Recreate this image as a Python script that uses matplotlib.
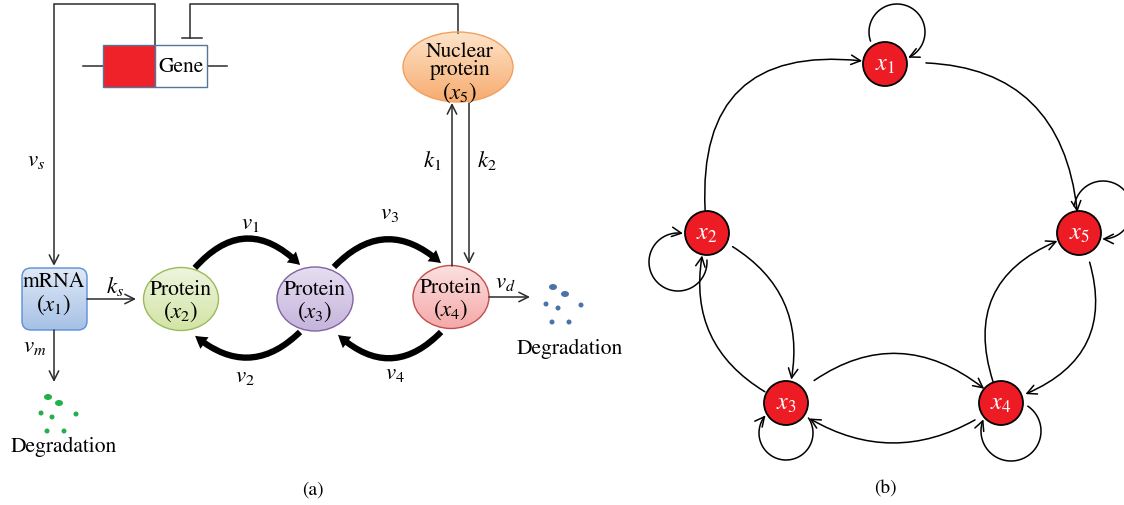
import numpy as np
import matplotlib
matplotlib.use("Agg")
import matplotlib.pyplot as plt
from matplotlib.patches import Ellipse, FancyBboxPatch, Rectangle, Circle, FancyArrowPatch
from matplotlib.path import Path
from matplotlib.colors import to_rgb

plt.rcParams['font.family'] = 'STIXGeneral'
plt.rcParams['mathtext.fontset'] = 'stix'

W, H = 1124, 505
PX2PT = 0.72  # one pixel in points at dpi 100
LINE = '#2b2b2b'
FS = 15.5

# ---- panel (a): reaction scheme ----
# protein species drawn as shaded ellipses
prot_labels = [r'$(x_2)$', r'$(x_3)$', r'$(x_4)$']
prot_cx = [181, 315, 451]
prot_cy = [299, 299, 297]
prot_w = [75, 76, 76]
prot_h = [63, 64, 63]
prot_top = ['#eef5de', '#e6def1', '#fce0e0']
prot_bot = ['#d3e4a6', '#c5b4dc', '#f5a9a9']
prot_edge = ['#9bbb59', '#8064a2', '#c0504d']

# conversion arrows between proteins: (start, end, rad, label, label pos)
conv_start = [(193, 270), (302, 330), (332, 269), (443, 330)]
conv_end = [(302, 267), (193, 334), (443, 265), (336, 333)]
conv_rad = [-0.55, -0.47, -0.5, -0.5]
conv_labels = [r'$v_1$', r'$v_2$', r'$v_3$', r'$v_4$']
conv_lab_pos = [(250, 223), (245, 376), (390, 213), (395, 373)]

# degradation products
green_x = [48, 59, 41, 52, 76, 47, 64]
green_y = [397, 403, 413, 417, 414, 431, 431]
blue_x = [553, 565, 546, 558, 581, 552, 569]
blue_y = [287, 294, 304, 308, 305, 322, 322]

# ---- panel (b): interaction graph ----
node_labels = [r'$x_1$', r'$x_2$', r'$x_3$', r'$x_4$', r'$x_5$']
node_x = [885, 707, 786, 1001, 1079]
node_y = [64, 233, 403, 403, 233]
node_r = 22

# directed edges: source, target, curvature, gap at start / end (px)
edge_src = [2, 1, 5, 4, 4, 3, 3, 2]
edge_dst = [1, 5, 4, 5, 3, 4, 2, 3]
edge_rad = [-0.66, -0.52, -0.56, -0.55, -0.37, -0.46, -0.42, -0.43]
edge_gap_a = [23, 41, 31, 23, 31, 36, 24, 29]
edge_gap_b = [23, 21, 26, 23, 28, 22, 23, 24]

# self loops: offset of loop centre from node, loop radius
loop_dx = [12, -29, 0, 10, 24]
loop_dy = [-32, 29, 30, 28, -23]
loop_r = [28, 29, 27, 30, 29]

fig = plt.figure(figsize=(W / 100, H / 100), dpi=100)
ax = fig.add_axes([0, 0, 1, 1])


def shaded(patch, top, bottom, x0, x1, y0, y1):
    ax.add_patch(patch)
    t = np.linspace(0, 1, 64)[:, None, None]
    img = np.array(to_rgb(top)) * (1 - t) + np.array(to_rgb(bottom)) * t
    im = ax.imshow(img, extent=(x0, x1, y1, y0), origin='upper',
                   aspect='auto', zorder=1, interpolation='bilinear')
    im.set_clip_path(patch)


def arrow(p0, p1, lw=1.1, ms=17):
    ax.annotate('', xy=p1, xytext=p0,
                arrowprops=dict(arrowstyle='->', color=LINE, lw=lw,
                                mutation_scale=ms, shrinkA=0, shrinkB=0))


# gene box and its feedback wiring
ax.plot([83, 103], [66, 66], color=LINE, lw=1.1)
ax.plot([207, 227], [66, 66], color=LINE, lw=1.1)
ax.add_patch(Rectangle((103, 45), 52, 42, fc='#ee2228', ec='#56759c', lw=1, zorder=2))
ax.add_patch(Rectangle((155, 45), 52, 42, fc='white', ec='#56759c', lw=1, zorder=2))
ax.text(181, 67, 'Gene', fontsize=FS, ha='center', va='center', zorder=3)

ax.add_patch(FancyArrowPatch(path=Path([(155, 45), (155, 4), (54, 4), (54, 266)]),
                             arrowstyle='->', color=LINE, lw=1.1, mutation_scale=17,
                             joinstyle='miter'))
ax.plot([458, 458, 190, 190], [33, 4, 4, 38], color=LINE, lw=1.1)
ax.plot([182, 202], [38, 38], color=LINE, lw=1.1)
ax.text(36, 160, r'$v_s$', fontsize=FS + 1, ha='center', va='center')

# mRNA
box = FancyBboxPatch((22, 268), 65, 62, boxstyle='round,pad=0,rounding_size=9',
                     fc='none', ec='#5b8ed6', lw=1, zorder=2)
shaded(box, '#dfe9f6', '#a6c1e6', 22, 87, 268, 330)
ax.text(54, 282, 'mRNA', fontsize=FS, ha='center', va='center', zorder=3)
ax.text(54, 305, r'$(x_1)$', fontsize=FS + 1, ha='center', va='center', zorder=3)

arrow((87, 299), (136, 299))
ax.text(115, 287, r'$k_s$', fontsize=FS + 1, ha='center', va='center')
arrow((54, 330), (54, 382))
ax.text(35, 346, r'$v_m$', fontsize=FS + 1, ha='center', va='center')

for i, (x, y) in enumerate(zip(green_x, green_y)):
    w, h = (8, 6) if i < 2 else (5, 5)
    ax.add_patch(Ellipse((x, y), w, h, fc='#21b04b', ec='none'))
ax.text(64, 447, 'Degradation', fontsize=FS, ha='center', va='center')

# proteins
for i in range(3):
    cx, cy, w, h = prot_cx[i], prot_cy[i], prot_w[i], prot_h[i]
    e = Ellipse((cx, cy), w, h, fc='none', ec=prot_edge[i], lw=1, zorder=2)
    shaded(e, prot_top[i], prot_bot[i], cx - w / 2, cx + w / 2, cy - h / 2, cy + h / 2)
    ax.text(cx, cy - 9, 'Protein', fontsize=FS, ha='center', va='center', zorder=3)
    ax.text(cx, cy + 13, prot_labels[i], fontsize=FS + 1, ha='center', va='center', zorder=3)

for p0, p1, rad, lab, lp in zip(conv_start, conv_end, conv_rad, conv_labels, conv_lab_pos):
    ax.add_patch(FancyArrowPatch(p0, p1, connectionstyle=f'arc3,rad={rad}',
                                 arrowstyle='simple,head_length=0.5,head_width=0.6,tail_width=0.26',
                                 mutation_scale=17, color='black', lw=0, zorder=4))
    ax.text(lp[0], lp[1], lab, fontsize=FS + 1, ha='center', va='center')

# nuclear protein
e = Ellipse((458, 67), 110, 70, fc='none', ec='#f2a060', lw=1, zorder=2)
shaded(e, '#fde3c8', '#f7ac70', 403, 513, 32, 102)
ax.text(460, 52, 'Nuclear', fontsize=FS, ha='center', va='center', zorder=3)
ax.text(460, 70, 'protein', fontsize=FS, ha='center', va='center', zorder=3)
ax.text(460, 93, r'$(x_5)$', fontsize=FS + 1, ha='center', va='center', zorder=3)

arrow((452, 266), (452, 103))
arrow((469, 103), (469, 264))
ax.text(432, 160, r'$k_1$', fontsize=FS + 1, ha='center', va='center')
ax.text(487, 160, r'$k_2$', fontsize=FS + 1, ha='center', va='center')

arrow((489, 297), (530, 297))
ax.text(505, 282, r'$v_d$', fontsize=FS + 1, ha='center', va='center')
for i, (x, y) in enumerate(zip(blue_x, blue_y)):
    w, h = (8, 6) if i < 2 else (5, 5)
    ax.add_patch(Ellipse((x, y), w, h, fc='#4a74a8', ec='none'))
ax.text(570, 349, 'Degradation', fontsize=FS, ha='center', va='center')

ax.text(313, 490, '(a)', fontsize=14, ha='center', va='center')

# ---- panel (b) ----
for s, d, rad, ga, gb in zip(edge_src, edge_dst, edge_rad, edge_gap_a, edge_gap_b):
    p0 = (node_x[s - 1], node_y[s - 1])
    p1 = (node_x[d - 1], node_y[d - 1])
    ax.add_patch(FancyArrowPatch(p0, p1, connectionstyle=f'arc3,rad={rad}',
                                 arrowstyle='->', color='black', lw=1.1,
                                 mutation_scale=17, shrinkA=ga * PX2PT,
                                 shrinkB=gb * PX2PT, zorder=2))

for i in range(5):
    nx, ny = node_x[i], node_y[i]
    cx, cy, r = nx + loop_dx[i], ny + loop_dy[i], loop_r[i]
    d = np.hypot(nx - cx, ny - cy)
    phi = np.arctan2(ny - cy, nx - cx)
    a0 = np.arccos((d ** 2 + r ** 2 - (node_r + 5) ** 2) / (2 * d * r))
    a1 = np.arccos((d ** 2 + r ** 2 - (node_r + 2) ** 2) / (2 * d * r))
    th = np.linspace(phi + a0, phi + 2 * np.pi - a1, 80)
    verts = np.column_stack([cx + r * np.cos(th), cy + r * np.sin(th)])
    ax.add_patch(FancyArrowPatch(path=Path(verts), arrowstyle='->', color='black',
                                 lw=1.1, mutation_scale=17, zorder=2))

for i in range(5):
    ax.add_patch(Circle((node_x[i], node_y[i]), node_r, fc='#ed1c24', ec='black',
                        lw=1.3, zorder=3))
    ax.text(node_x[i], node_y[i] + 1, node_labels[i], color='white', fontsize=FS + 2,
            ha='center', va='center', zorder=4)

ax.text(885, 489, '(b)', fontsize=14, ha='center', va='center')

ax.set_xlim(0, W)
ax.set_ylim(H, 0)
ax.axis('off')
fig.savefig('out.png', dpi=100)
